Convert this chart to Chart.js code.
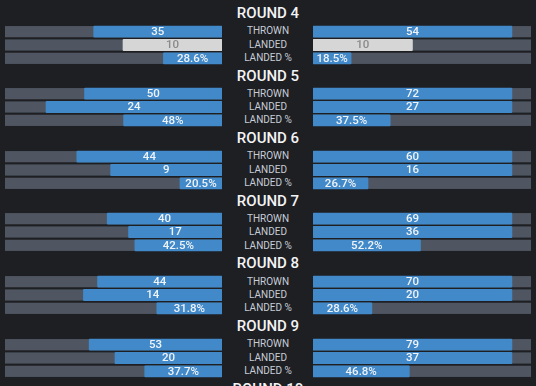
<!DOCTYPE html>
<html>
<head>
<meta charset="utf-8">
<script src="https://cdn.jsdelivr.net/npm/chart.js@4.4.0/dist/chart.umd.min.js"></script>
<style>
  html, body { margin: 0; padding: 0; background: #1e1f23; }
  #wrap { position: relative; width: 536px; height: 386px; overflow: hidden; background: #1e1f23; font-family: Roboto, "Noto Sans", sans-serif; }
  .title { position: absolute; left: 0; width: 536px; text-align: center; color: #f3f4f6; font-size: 15px; font-weight: 500; line-height: 16px; }
  .stat { position: absolute; left: 218px; width: 100px; text-align: center; color: #c7cdd7; font-size: 10px; line-height: 12px; }
  canvas { position: absolute; }
</style>
</head>
<body>
<div id="wrap"></div>
<script>
// ---- data ----
const rounds = ['ROUND 4', 'ROUND 5', 'ROUND 6', 'ROUND 7', 'ROUND 8', 'ROUND 9'];
const nextRound = 'ROUND 10';
const statLabels = ['THROWN', 'LANDED', 'LANDED %'];
const leftThrown  = [35, 50, 44, 40, 44, 53];
const leftLanded  = [10, 24, 9, 17, 14, 20];
const leftPct     = [28.6, 48, 20.5, 42.5, 31.8, 37.7];
const rightThrown = [54, 72, 60, 69, 70, 79];
const rightLanded = [10, 27, 16, 36, 20, 37];
const rightPct    = [18.5, 37.5, 26.7, 52.2, 28.6, 46.8];

// ---- style / layout ----
const BLUE = '#4189c8', TRACK = '#4f5662', TIE = '#d6d6d6';
const TEXT = '#eef3f8', TIE_TEXT = '#8a8a8a';
const COUNT_PAD = 217 / 198;   // larger value fills ~91% of the track
const PCT_MAX = 100 * 217 / 205;
const FIRST_TOP = 24.5, ROUND_STEP = 62.6, CH = 40, BAR_H = 11.2;

function countMax(a, b) { return (a === b ? a + b : Math.max(a, b)) * COUNT_PAD; }

const trackPlugin = {
  id: 'track',
  beforeDatasetsDraw(chart) {
    const ctx = chart.ctx, y = chart.scales.y, a = chart.chartArea;
    ctx.save();
    ctx.fillStyle = TRACK;
    for (let i = 0; i < statLabels.length; i++) {
      const cy = y.getPixelForValue(i);
      ctx.fillRect(a.left, cy - BAR_H / 2, a.right - a.left, BAR_H);
    }
    ctx.restore();
  }
};

const labelPlugin = {
  id: 'vals',
  afterDatasetsDraw(chart) {
    const ctx = chart.ctx;
    ctx.save();
    ctx.font = '500 11.5px Roboto, "Noto Sans", sans-serif';
    ctx.textAlign = 'center';
    ctx.textBaseline = 'middle';
    chart.data.datasets.forEach((ds, di) => {
      const meta = chart.getDatasetMeta(di);
      meta.data.forEach((el, idx) => {
        const v = ds.data[idx];
        if (v === null || v === undefined) return;
        const p = el.getProps(['x', 'base', 'y'], true);
        ctx.fillStyle = ds.tie ? TIE_TEXT : TEXT;
        ctx.fillText(di === 2 ? v + '%' : String(v), (p.x + p.base) / 2, p.y + 0.5);
      });
    });
    ctx.restore();
  }
};

const wrap = document.getElementById('wrap');

function makeSide(top, left, width, reverse, t, l, p, tMax, lMax, tie) {
  const c = document.createElement('canvas');
  c.width = width; c.height = CH;
  c.style.left = left + 'px'; c.style.top = top + 'px';
  c.style.width = width + 'px'; c.style.height = CH + 'px';
  wrap.appendChild(c);
  const xs = (max) => ({ type: 'linear', display: false, min: 0, max: max, reverse: reverse });
  new Chart(c, {
    type: 'bar',
    data: {
      labels: statLabels,
      datasets: [
        { data: [t, null, null], xAxisID: 'xT', backgroundColor: BLUE },
        { data: [null, l, null], xAxisID: 'xL', backgroundColor: tie ? TIE : BLUE, tie: tie },
        { data: [null, null, p], xAxisID: 'xP', backgroundColor: BLUE }
      ]
    },
    options: {
      indexAxis: 'y',
      responsive: false,
      animation: false,
      devicePixelRatio: 1,
      layout: { padding: 0 },
      grouped: false,
      barThickness: BAR_H,
      borderRadius: 1,
      borderSkipped: false,
      plugins: { legend: { display: false }, tooltip: { enabled: false } },
      scales: {
        y: { type: 'category', display: false, offset: true },
        xT: xs(tMax), xL: xs(lMax), xP: xs(PCT_MAX)
      }
    },
    plugins: [trackPlugin, labelPlugin]
  });
}

rounds.forEach((name, i) => {
  const top = FIRST_TOP + ROUND_STEP * i;
  const title = document.createElement('div');
  title.className = 'title';
  title.textContent = name;
  title.style.top = (top - 19.5) + 'px';
  wrap.appendChild(title);
  statLabels.forEach((s, k) => {
    const d = document.createElement('div');
    d.className = 'stat';
    d.textContent = s;
    d.style.top = (top + CH / 6 + k * CH / 3 - 6) + 'px';
    wrap.appendChild(d);
  });
  const tMax = countMax(leftThrown[i], rightThrown[i]);
  const lMax = countMax(leftLanded[i], rightLanded[i]);
  const tie = leftLanded[i] === rightLanded[i];
  makeSide(top, 5, 217, true, leftThrown[i], leftLanded[i], leftPct[i], tMax, lMax, tie);
  makeSide(top, 313, 218, false, rightThrown[i], rightLanded[i], rightPct[i], tMax, lMax, tie);
});

const t10 = document.createElement('div');
t10.className = 'title';
t10.textContent = nextRound;
t10.style.top = (FIRST_TOP + ROUND_STEP * rounds.length - 19.5) + 'px';
wrap.appendChild(t10);
</script>
</body>
</html>
